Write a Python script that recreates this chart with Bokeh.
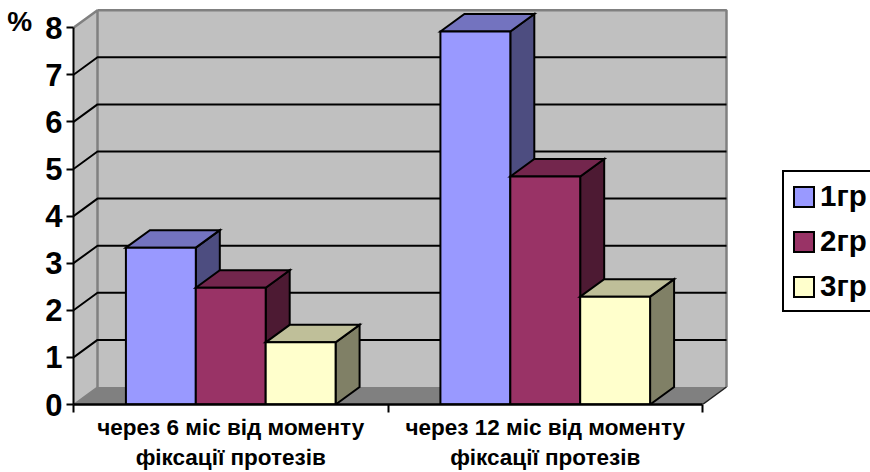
from bokeh.plotting import figure
from bokeh.models import (Range1d, LinearAxis, FixedTicker, Legend, LegendItem)
from bokeh.embed import file_html
from bokeh.resources import INLINE

categories = ["через 6 міс від моменту\nфіксації протезів", "через 12 міс від моменту\nфіксації протезів"]
series_names = ["1гр", "2гр", "3гр"]
y_title = "\n%"
s1 = [3.33, 7.92]
s2 = [2.48, 4.84]
s3 = [1.32, 2.29]
y_ticks = [0, 1, 2, 3, 4, 5, 6, 7, 8]
front_colors = ["#9999FF", "#993366", "#FFFFCC"]
top_colors = ["#7373BF", "#73264D", "#BFBF99"]
side_colors = ["#4D4D80", "#4D1A33", "#808066"]

FONT = "Liberation Sans"
W, H = 870, 472
LEFT, BOTTOM, TOP = 73, 68, 5
PX_X = 314.5   # pixels per category
PX_Y = 47.1    # pixels per value unit
DX = 24 / PX_X
DV = 17.5 / PX_Y
BAR = 1 / 4.5
YMAX = y_ticks[-1]
NCAT = len(categories)

p = figure(width=W, height=H, output_backend="svg", toolbar_location=None,
           x_range=Range1d(0, (W - LEFT) / PX_X),
           y_range=Range1d(0, (H - BOTTOM - TOP) / PX_Y),
           x_axis_type=None, y_axis_type=None,
           min_border_left=LEFT, min_border_bottom=BOTTOM, min_border_top=TOP, min_border_right=0)
p.xgrid.visible = False
p.ygrid.visible = False
p.outline_line_color = None
p.background_fill_color = "white"

GREY = "#808080"
WALL = "#C0C0C0"
# walls and floor
p.patch([DX, NCAT + DX, NCAT + DX, DX], [DV, DV, YMAX + DV, YMAX + DV], fill_color=WALL, line_color=None)
p.patch([0, DX, DX, 0], [0, DV, YMAX + DV, YMAX], fill_color=WALL, line_color=None)
p.patch([0, NCAT, NCAT + DX, DX], [0, 0, DV, DV], fill_color=GREY, line_color=None)
# wall edges
p.line([0, DX, DX], [YMAX, YMAX + DV, DV], line_color=GREY, line_width=2.5)
p.line([DX, NCAT + DX, NCAT + DX], [YMAX + DV, YMAX + DV, DV], line_color=GREY, line_width=2.5)
p.line([0, DX], [0, DV], line_color=GREY, line_width=1.5)
p.line([NCAT, NCAT + DX], [0, DV], line_color="#202020", line_width=1.5)
# grid lines
grid = y_ticks[1:-1]
p.multi_line([[0, DX, NCAT + DX] for _ in grid], [[v, v + DV, v + DV] for v in grid],
             line_color="black", line_width=2)

# bars
legend_items = []
for i, vals in enumerate([s1, s2, s3]):
    lefts = [c + (1 - 3 * BAR) / 2 + i * BAR for c in range(NCAT)]
    side_x = [[l + BAR, l + BAR + DX, l + BAR + DX, l + BAR] for l in lefts]
    side_y = [[0, DV, v + DV, v] for v in vals]
    top_x = [[l, l + DX, l + BAR + DX, l + BAR] for l in lefts]
    top_y = [[v, v + DV, v + DV, v] for v in vals]
    front_x = [[l, l + BAR, l + BAR, l] for l in lefts]
    front_y = [[0, 0, v, v] for v in vals]
    p.patches(side_x, side_y, fill_color=side_colors[i], line_color="black", line_width=2, line_join="miter")
    p.patches(top_x, top_y, fill_color=top_colors[i], line_color="black", line_width=2, line_join="miter")
    r = p.patches(front_x, front_y, fill_color=front_colors[i], line_color="black", line_width=2, line_join="miter")
    legend_items.append(LegendItem(label=series_names[i], renderers=[r]))

# axes
yaxis = LinearAxis(ticker=FixedTicker(ticks=y_ticks), bounds=(0, YMAX))
yaxis.axis_line_color = "black"
yaxis.axis_line_width = 2
yaxis.major_tick_line_color = "black"
yaxis.major_tick_line_width = 2
yaxis.major_tick_out = 7
yaxis.major_tick_in = 0
yaxis.minor_tick_line_color = None
yaxis.major_label_standoff = 4
yaxis.major_label_text_font = FONT
yaxis.major_label_text_font_style = "bold"
yaxis.major_label_text_font_size = "31px"
yaxis.major_label_text_color = "black"
yaxis.axis_label = y_title
yaxis.axis_label_align = "end"
yaxis.axis_label_orientation = "horizontal"
yaxis.axis_label_standoff = 10
yaxis.axis_label_text_font = FONT
yaxis.axis_label_text_font_style = "bold"
yaxis.axis_label_text_font_size = "28px"
yaxis.axis_label_text_color = "black"
yaxis.axis_label_text_line_height = 1.0
p.add_layout(yaxis, "left")

xaxis = LinearAxis(ticker=FixedTicker(ticks=[c + 0.5 for c in range(NCAT)], minor_ticks=list(range(NCAT + 1))),
                   bounds=(0, NCAT))
xaxis.major_label_overrides = {c + 0.5: categories[c] for c in range(NCAT)}
xaxis.axis_line_color = "black"
xaxis.axis_line_width = 2.5
xaxis.major_tick_out = 0
xaxis.major_tick_in = 0
xaxis.major_tick_line_color = None
xaxis.minor_tick_line_color = "black"
xaxis.minor_tick_line_width = 2
xaxis.minor_tick_out = 8
xaxis.minor_tick_in = 0
xaxis.major_label_standoff = 2
xaxis.major_label_text_font = FONT
xaxis.major_label_text_font_style = "bold"
xaxis.major_label_text_font_size = "22.5px"
xaxis.major_label_text_color = "black"
xaxis.major_label_text_line_height = 1.2
p.add_layout(xaxis, "below")

# legend
legend = Legend(items=legend_items, location=(709, 92), orientation="vertical",
                margin=0, padding=7, spacing=11, glyph_width=25, glyph_height=25, label_height=20,
                label_standoff=4, label_text_font=FONT, label_text_font_style="bold",
                label_text_font_size="29.5px", label_text_color="black",
                border_line_color="black", border_line_alpha=1, border_line_width=2,
                background_fill_color="white", background_fill_alpha=1)
p.add_layout(legend)

open("out.html", "w").write(file_html(p, INLINE))
